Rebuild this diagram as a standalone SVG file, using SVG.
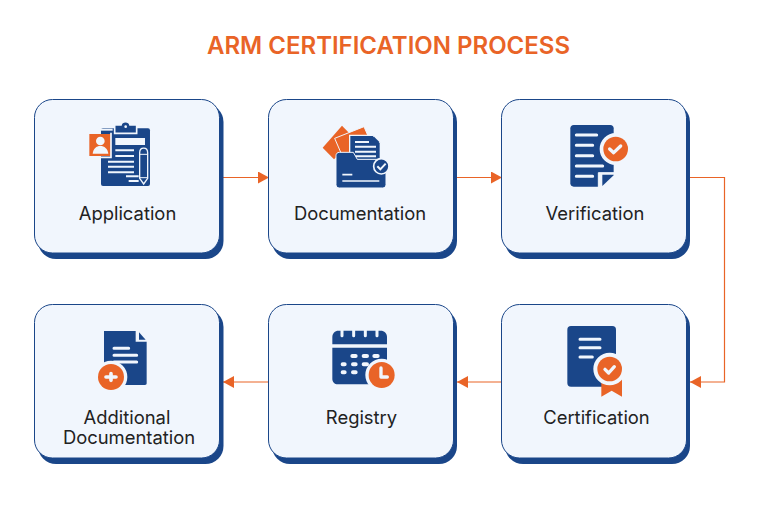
<svg xmlns="http://www.w3.org/2000/svg" width="760" height="513" viewBox="0 0 760 513">
<style>
.shadow{fill:#1a4689}
.card{fill:#f1f6fd;stroke:#1a4689;stroke-width:1}
.label{font-family:Inter,"Liberation Sans",sans-serif;font-size:18.4px;fill:#222;text-anchor:middle}
.title{font-family:Inter,"Liberation Sans",sans-serif;font-size:24px;font-weight:600;fill:#e96427;text-anchor:middle}
.conn{fill:none;stroke:#e96427;stroke-width:1.2}
.b{fill:#1a4689}.o{fill:#e96427}.w{fill:#f1f6fd}
.wl{stroke:#f1f6fd;stroke-width:9;stroke-linecap:round;fill:none}
.ws{stroke:#f1f6fd;stroke-width:6;fill:none}
</style>
<defs>
<marker id="arrow" viewBox="0 0 11 12" refX="11" refY="6" markerWidth="11" markerHeight="12" markerUnits="userSpaceOnUse" orient="auto"><path d="M0 0L11 6L0 12Z" fill="#e96427"/></marker>
</defs>
<rect width="760" height="513" fill="#fff"/>
<text class="title" x="388.500" y="54">ARM CERTIFICATION PROCESS</text>
<g id="connectors">
<path class="conn" d="M223 177.500H269" marker-end="url(#arrow)"/>
<path class="conn" d="M457 177.500H502" marker-end="url(#arrow)"/>
<path class="conn" d="M690 177.500H724.500V382H690" marker-end="url(#arrow)"/>
<path class="conn" d="M501 382H457" marker-end="url(#arrow)"/>
<path class="conn" d="M268 382H223" marker-end="url(#arrow)"/>
</g>
<g id="application">
<rect class="shadow" x="38" y="104" width="185.500" height="155" rx="18"/>
<rect class="card" x="34.500" y="99.500" width="185" height="153.500" rx="18"/>
<g transform="translate(70 110) scale(.3333)">
<rect class="b" x="93" y="55" width="147" height="173" rx="6"/>
<path class="ws" d="M128 59H90"/>
<path class="b" d="M134 45H153C155 32 178 32 180 45H200V70H134Z" stroke="#f1f6fd" stroke-width="5"/>
<circle class="w" cx="167" cy="50" r="4"/>
<rect class="w" x="136" y="84" width="89" height="21"/>
<path class="ws" d="M136 121H192M136 138H192M114 155H192M114 170H192M114 187H192M168 199H206M176 213H206"/>
<rect x="58" y="72" width="65" height="66" class="o"/>
<path d="M123 68V142H90" stroke="#f1f6fd" stroke-width="5" fill="none"/>
<circle class="w" cx="91" cy="93" r="13"/>
<path class="w" d="M68 131C70 116 79 108 91 108C103 108 113 116 115 131Z"/>
<path d="M209 128C209 110 233 110 233 128V205L221 222L209 205Z" class="b" stroke="#f1f6fd" stroke-width="4"/>
<path d="M209 133H233M209 203H233" stroke="#f1f6fd" stroke-width="3"/>
</g>
<text class="label" x="127.500" y="220">Application</text>
</g>
<g id="documentation">
<rect class="shadow" x="272" y="104" width="185" height="155" rx="18"/>
<rect class="card" x="268.500" y="99.500" width="185" height="153.500" rx="18"/>
<g transform="translate(300 110) scale(.3333)">
<path class="o" d="M126 47L165 87L102 148L68 113Z"/>
<path class="o" d="M104 85L192 50L218 110L130 145Z" stroke="#f1f6fd" stroke-width="3"/>
<path class="b" d="M149 76H219L241 98V150H149Z" stroke="#f1f6fd" stroke-width="4"/>
<path class="b" d="M222 80L238 96H222Z"/>
<path class="ws" d="M165 96H207M165 110H228M165 125H228M165 139H228"/>
<path class="b" d="M118 127H160L172 148H248C255 148 258 152 258 158V224C258 230 254 234 248 234H118C112 234 108 230 108 224V137C108 131 112 127 118 127Z" stroke="#f1f6fd" stroke-width="3"/>
<path d="M127 194H157M127 213H238" stroke="#f1f6fd" stroke-width="5" fill="none"/>
<circle class="b" cx="244" cy="169" r="23" stroke="#f1f6fd" stroke-width="5"/>
<path d="M232 169L241 178L257 161" stroke="#f1f6fd" stroke-width="6" fill="none"/>
</g>
<text class="label" x="360" y="220">Documentation</text>
</g>
<g id="verification">
<rect class="shadow" x="505" y="104" width="185" height="155" rx="18"/>
<rect class="card" x="501.500" y="99.500" width="185" height="153.500" rx="18"/>
<g transform="translate(550 110) scale(.3333)">
<path class="b" d="M71 45H181C187 45 191 49 191 55V195L145 230H71C65 230 61 226 61 220V55C61 49 65 45 71 45Z"/>
<path class="w" d="M145 232V188H193V198L155 232Z" stroke="#f1f6fd" stroke-width="3"/>
<path class="b" d="M157 228L191 196V194H157Z"/>
<path class="wl" d="M79 75H140M79 106H128M79 137H128M79 168H158M79 199H128"/>
<circle class="o" cx="197" cy="117" r="37" stroke="#f1f6fd" stroke-width="22" paint-order="stroke"/>
<path d="M179 117L191 128L212 108" stroke="#f1f6fd" stroke-width="10" stroke-linecap="round" stroke-linejoin="round" fill="none"/>
</g>
<text class="label" x="595" y="220">Verification</text>
</g>
<g id="certification">
<rect class="shadow" x="505" y="309" width="185" height="155" rx="18"/>
<rect class="card" x="501.500" y="304.500" width="185" height="153.500" rx="18"/>
<g transform="translate(550 315) scale(.3333)">
<rect class="b" x="52" y="33" width="146" height="182" rx="11"/>
<path class="wl" d="M90 73H150M90 98H150M90 126H127"/>
<path class="o" d="M154 190H216V245L185 227L154 245Z"/>
<circle class="o" cx="179" cy="162" r="37" stroke="#f1f6fd" stroke-width="24" paint-order="stroke"/>
<path d="M165 163L176 174L193 155" stroke="#f1f6fd" stroke-width="10" stroke-linecap="round" stroke-linejoin="round" fill="none"/>
</g>
<text class="label" x="596.500" y="424">Certification</text>
</g>
<g id="registry">
<rect class="shadow" x="272" y="309" width="185" height="155" rx="18"/>
<rect class="card" x="268.500" y="304.500" width="185" height="153.500" rx="18"/>
<g transform="translate(315 315) scale(.3333)">
<path class="b" d="M70 47H197C208 47 216 55 216 66V88H52V66C52 55 60 47 70 47Z"/>
<path d="M52 98H216V170L165 195V208H68C59 208 52 201 52 192Z" class="b"/>
<path class="wl" d="M81 44V62M116 44V62M151 44V62M186 44V62"/>
<path stroke="#f1f6fd" stroke-width="12" stroke-linecap="round" fill="none" d="M112 123H122M146 123H156M178 123H188M83 148H89M114 148H122M146 148H156M83 172H89M114 172H122"/>
<circle class="o" cx="200" cy="180" r="39" stroke="#f1f6fd" stroke-width="20" paint-order="stroke"/>
<path d="M198 159V186H217" stroke="#f1f6fd" stroke-width="10" stroke-linecap="round" stroke-linejoin="round" fill="none"/>
</g>
<text class="label" x="361.500" y="424">Registry</text>
</g>
<g id="additional-documentation">
<rect class="shadow" x="38" y="309" width="185.500" height="155" rx="18"/>
<rect class="card" x="34.500" y="304.500" width="185" height="153.500" rx="18"/>
<g transform="translate(80 315) scale(.3333)">
<path class="b" d="M72 48H167V80H200V205C200 208 198 210 195 210H72Z"/>
<path class="b" d="M177 52L197 74H177Z"/>
<path class="wl" d="M102 100H146M102 121H170M102 141H170"/>
<circle class="o" cx="93" cy="186" r="39" stroke="#f1f6fd" stroke-width="20" paint-order="stroke"/>
<path d="M93 176V196M78 186H108" stroke="#f1f6fd" stroke-width="11" stroke-linecap="round" fill="none"/>
</g>
<text class="label"><tspan x="127" y="424">Additional</tspan><tspan x="129" y="444">Documentation</tspan></text>
</g>
</svg>
